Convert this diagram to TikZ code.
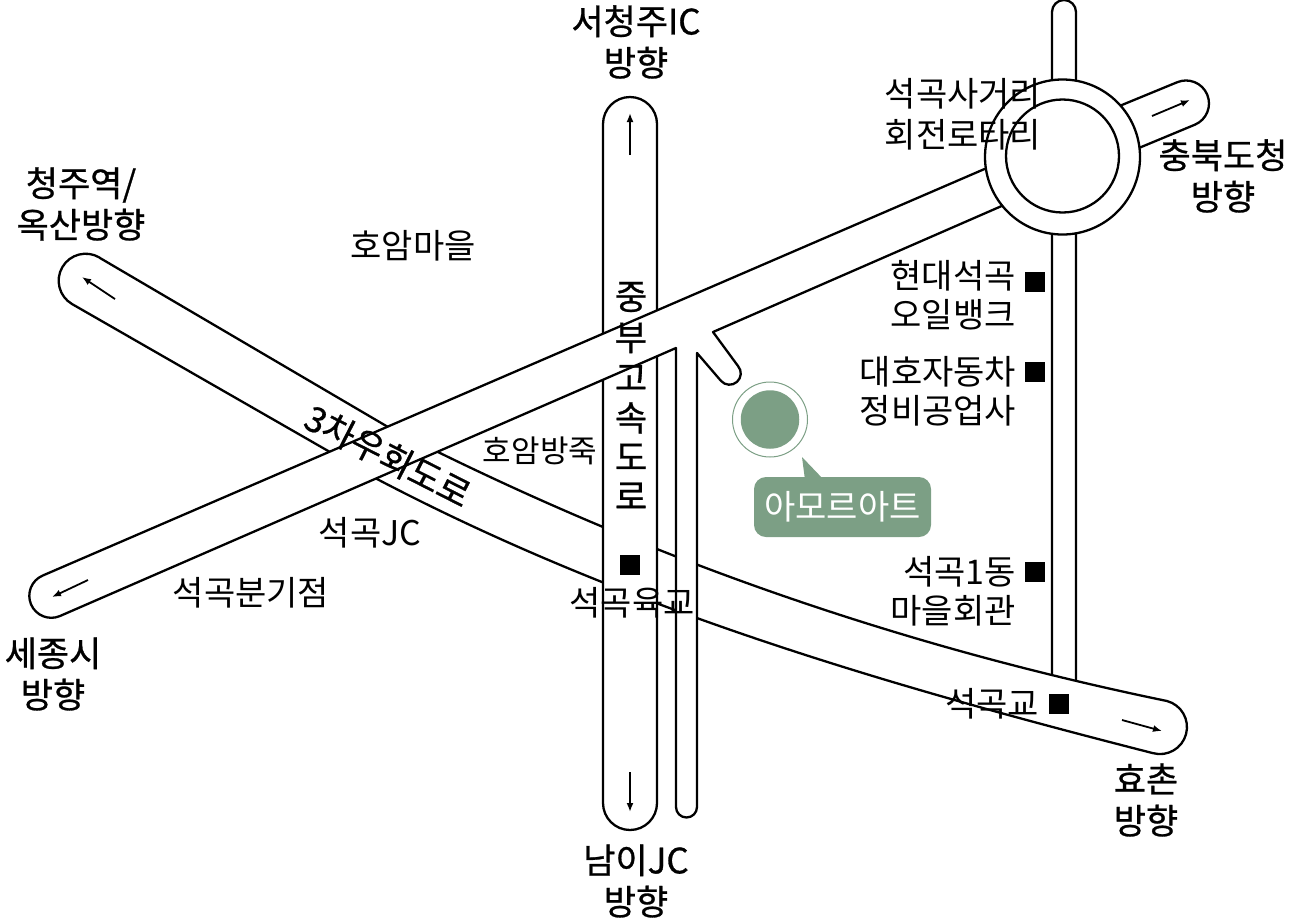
\documentclass[tikz,border=0pt]{standalone}
\usepackage{fontspec}
\setmainfont{Noto Sans CJK KR}
\newfontfamily\heavyfont[FakeBold=0.8]{Noto Sans CJK KR}
\usetikzlibrary{arrows.meta}
\definecolor{amoregreen}{HTML}{7C9F85}
\tikzset{
  road/.style={draw=black,fill=white,line width=2.3pt,line join=round},
  roadarrow/.style={-{Latex[length=9pt,width=7pt]},line width=1.8pt},
  placelabel/.style={inner sep=0pt,align=center,font=\fontsize{34}{39}\selectfont},
  dirlabel/.style={inner sep=0pt,align=center,font=\heavyfont\fontsize{35}{41.5}\selectfont},
  placemark/.style={fill=black,inner sep=0pt,minimum size=20pt},
}
\begin{document}
\begin{tikzpicture}[x=1pt,y=-1pt]
\useasboundingbox (0,0) rectangle (1290,922);
% roads, bottom layer first
\draw[road] (1052,700) -- (1052,12) arc (180:360:12) -- (1076,700) -- cycle;
\draw[road] (1100,114) -- (1177,82.3) arc (-113:67:23) -- (1110,160) -- cycle;
\draw[road] (100,258) -- (388,427) .. controls (648,560) and (905,647) .. (1167,701) arc (-74.9:105.1:27) .. controls (890,686) and (627,610) .. (377,479) -- (72,304) arc (120.4:300.4:27) -- cycle;
\draw[road] (603,803) -- (603,124) arc (180:360:27) -- (657,803) arc (0:180:27) -- cycle;
\draw[road] (60,616) arc (66.7:246.7:22) -- (1010,158) -- (1020,198) -- (713,332) -- (738,366) arc (-41:139:11.3) -- (697,353) -- (697,807) arc (0:180:10.5) -- (676,348) -- cycle;
% roundabout
\draw[road] (1062.5,157) circle (77.5);
\draw[road] (1062.5,156) circle (56.5);
% direction arrows
\draw[roadarrow] (630,155) -- (630,113);
\draw[roadarrow] (630,772) -- (630,812);
\draw[roadarrow] (1152,116) -- (1190,100);
\draw[roadarrow] (115,299) -- (82,277);
\draw[roadarrow] (88,580) -- (52,597);
\draw[roadarrow] (1122,720) -- (1162,731);
% amore art marker
\node[circle,draw=amoregreen,line width=1pt,minimum size=75pt] (markring) at (770,419.5) {};
\node[circle,fill=amoregreen,minimum size=58.5pt,inner sep=0pt] (markdot) at (770,419.5) {};
\fill[amoregreen] (805,480) -- (802,457) -- (824,480) -- cycle;
\node[fill=amoregreen,rounded corners=12pt,minimum width=177pt,minimum height=60pt,inner sep=0pt,text=white,font=\fontsize{34}{40}\selectfont] (amoreart) at (842.5,507) {아모르아트};
% square marks
\node[placemark] (hyundaimark) at (1035,282) {};
\node[placemark] (daehomark) at (1035,372) {};
\node[placemark] (donghallmark) at (1035,572) {};
\node[placemark] (bridgemark) at (1059,704) {};
\node[placemark] (schoolmark) at (630,565) {};
% direction labels
\node[dirlabel] (cheongjuic) at (636,42) {서청주IC\\방향};
\node[dirlabel] (cheongjust) at (81,204) {청주역/\\옥산방향};
\node[dirlabel] (provoffice) at (1223,176) {충북도청\\방향};
\node[dirlabel] (sejong) at (53,674) {세종시\\방향};
\node[dirlabel] (namijc) at (636,881) {남이JC\\방향};
\node[dirlabel] (hyochon) at (1146,800) {효촌\\방향};
% place labels
\node[placelabel] (hoamvillage) at (413,246) {호암마을};
\node[placelabel,font=\fontsize{31}{39}\selectfont] (hoamdam) at (540,451) {호암방죽};
\node[placelabel] (seokgokjc) at (370,533) {석곡JC};
\node[placelabel] (branch) at (251,593) {석곡분기점};
\node[placelabel] (hyundai) at (953,295.5) {현대석곡\\오일뱅크};
\node[placelabel] (daeho) at (938,391.5) {대호자동차\\정비공업사};
\node[placelabel,align=right,anchor=east] (donghall) at (1016,591.5) {석곡1동\\마을회관};
\node[placelabel] (rotary) at (963,114) {석곡사거리\\[2pt]회전로타리};
\node[placelabel] (school) at (632,603) {석곡육교};
\node[placelabel] (bridge) at (992,704) {석곡교};
\node[dirlabel,rotate=-27] (bypass) at (388,456) {3차우회도로};
% expressway name, one letter under the other
\node[dirlabel] (exp1) at (631,297) {중};
\node[dirlabel] (exp2) at (631,338) {부};
\node[dirlabel] (exp3) at (631,378) {고};
\node[dirlabel] (exp4) at (631,418) {속};
\node[dirlabel] (exp5) at (631,457) {도};
\node[dirlabel] (exp6) at (631,496) {로};
\end{tikzpicture}
\end{document}
